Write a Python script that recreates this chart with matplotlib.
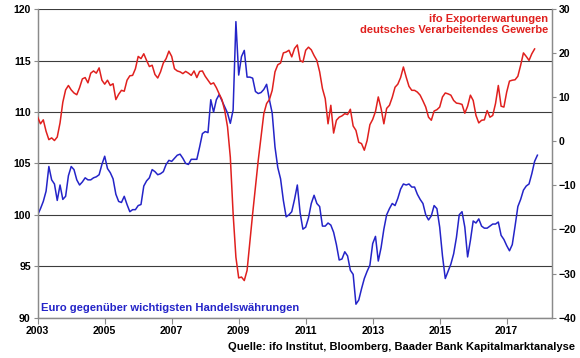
import numpy as np
import matplotlib
matplotlib.use("Agg")
import matplotlib.pyplot as plt

plt.rcParams['font.family'] = ['Liberation Sans', 'DejaVu Sans']
plt.rcParams['font.weight'] = 'bold'

start_year = 2003

# Euro gegenueber wichtigsten Handelswaehrungen (left axis), monthly from Jan 2003
euro_index = [
    100.0, 100.6, 101.3, 102.3, 104.7, 103.4, 103.0, 101.4, 102.9, 101.5, 101.8, 103.8,
    104.7, 104.4, 103.4, 102.9, 103.2, 103.6, 103.4, 103.4, 103.6, 103.7, 103.9, 104.9,
    105.7, 104.5, 104.1, 103.5, 102.0, 101.3, 101.2, 101.8, 101.0, 100.3, 100.5, 100.5,
    100.9, 101.0, 102.8, 103.3, 103.6, 104.4, 104.2, 103.9, 104.0, 104.2, 104.9, 105.3,
    105.2, 105.5, 105.8, 105.9, 105.5, 105.0, 104.9, 105.4, 105.4, 105.4, 106.6, 107.9,
    108.1, 108.0, 111.2, 110.0, 111.2, 111.7, 111.1, 110.5, 109.9, 108.9, 110.2, 118.8,
    113.6, 115.4, 116.0, 113.4, 113.4, 113.3, 112.0, 111.8, 111.9, 112.2, 112.7, 111.2,
    109.9, 106.6, 104.6, 103.5, 101.4, 99.8, 100.0, 100.3, 101.5, 102.9, 100.2, 98.6,
    98.8, 99.7, 101.1, 101.9, 101.1, 100.8, 98.9, 98.9, 99.2, 99.0, 98.3, 97.1,
    95.6, 95.7, 96.4, 96.0, 94.6, 94.2, 91.3, 91.7, 92.8, 93.8, 94.5, 95.1,
    97.2, 97.9, 95.5, 96.8, 98.6, 100.0, 100.6, 101.1, 100.9, 101.6, 102.5, 103.0,
    102.9, 103.0, 102.7, 102.7, 102.0, 101.5, 101.1, 100.0, 99.5, 99.9, 100.9, 100.6,
    98.8, 96.0, 93.8, 94.5, 95.2, 96.2, 97.8, 100.0, 100.3, 98.8, 95.9, 97.5,
    99.4, 99.2, 99.6, 98.9, 98.7, 98.7, 98.9, 99.1, 99.1, 99.3, 98.0, 97.6,
    97.0, 96.5, 97.1, 98.9, 100.8, 101.5, 102.4, 102.8, 103.0, 104.0, 105.2, 105.8,
]

# ifo Exporterwartungen deutsches Verarbeitendes Gewerbe (right axis), monthly from Jan 2003
ifo_export = [
    5.5, 4.0, 4.9, 2.3, 0.4, 0.8, 0.2, 1.0, 4.2, 8.9, 11.7, 12.7,
    11.7, 11.0, 10.6, 12.2, 14.2, 14.5, 13.3, 15.5, 16.0, 15.5, 16.7, 13.9,
    13.0, 13.9, 12.7, 13.1, 9.5, 10.7, 11.6, 11.4, 13.9, 14.9, 15.0, 16.5,
    19.3, 18.8, 19.9, 18.4, 17.0, 17.3, 15.2, 14.4, 15.8, 17.8, 18.8, 20.5,
    19.3, 16.5, 16.0, 15.8, 15.4, 15.9, 15.5, 15.0, 16.0, 14.5, 15.9, 16.0,
    14.8, 13.9, 13.0, 13.3, 12.2, 10.8, 9.5, 7.0, 3.3, -3.6, -16.4, -26.3,
    -31.0, -30.8, -31.6, -29.3, -22.9, -16.4, -10.4, -4.3, 1.0, 6.3, 8.6, 9.5,
    11.6, 15.8, 17.4, 17.8, 20.1, 20.3, 20.7, 19.2, 21.1, 21.9, 18.4, 18.0,
    20.7, 21.4, 20.8, 19.5, 18.4, 15.8, 12.0, 9.7, 4.0, 8.2, 1.9, 4.8,
    5.5, 5.8, 6.3, 6.1, 7.3, 3.5, 2.5, -0.2, -0.5, -2.0, 0.2, 3.8,
    5.0, 6.8, 10.1, 7.5, 4.0, 7.5, 8.2, 10.0, 12.3, 13.0, 14.5, 16.9,
    14.6, 12.5, 11.6, 11.6, 11.2, 10.5, 9.2, 7.8, 5.5, 4.8, 6.9, 7.2,
    7.8, 10.1, 11.0, 10.8, 10.5, 9.3, 8.7, 8.6, 8.4, 6.4, 8.0, 10.5,
    9.3, 5.9, 4.2, 4.8, 4.9, 7.0, 5.5, 5.9, 8.6, 12.7, 8.0, 7.8,
    11.2, 13.7, 13.9, 14.0, 14.8, 17.3, 20.1, 19.3, 18.4, 19.9, 21.0,
]

x_tick_years = [2003, 2005, 2007, 2009, 2011, 2013, 2015, 2017]
left_ticks = [90, 95, 100, 105, 110, 115, 120]
right_ticks = [-40, -30, -20, -10, 0, 10, 20, 30]

label_red = "ifo Exporterwartungen\ndeutsches Verarbeitendes Gewerbe"
label_blue = "Euro gegenüber wichtigsten Handelswährungen"
source = "Quelle: ifo Institut, Bloomberg, Baader Bank Kapitalmarktanalyse"

RED = '#E0201E'
BLUE = '#2424C8'
GRID = '#3C3C3C'
SPINE = '#8A8A8A'

x_blue = start_year + np.arange(len(euro_index)) / 12.0
x_red = start_year + np.arange(len(ifo_export)) / 12.0

fig = plt.figure(figsize=(5.8, 3.58), dpi=100)
ax = fig.add_axes([0.065, 0.113, 0.886, 0.861])
ax2 = ax.twinx()

ax.set_xlim(2003, 2018.34)
ax.set_ylim(90, 120)
ax2.set_ylim(-40, 30)

ax.set_yticks(left_ticks)
ax2.set_yticks(right_ticks)
ax.set_xticks(x_tick_years)
ax.set_xticklabels([str(y) for y in x_tick_years])

ax.yaxis.grid(True, color=GRID, lw=0.8)
ax.set_axisbelow(True)

ax.plot(x_blue, euro_index, color=BLUE, lw=1.1, zorder=3)
ax2.plot(x_red, ifo_export, color=RED, lw=1.1, zorder=3)

for a in (ax, ax2):
    a.spines['top'].set_visible(False)
    for s in ('left', 'right', 'bottom'):
        a.spines[s].set_color(SPINE)
        a.spines[s].set_linewidth(0.9)

ax.tick_params(axis='both', labelsize=7.6, colors='black', length=3, width=0.8,
               direction='out', pad=2)
ax.tick_params(axis='y', color=SPINE)
ax.tick_params(axis='x', color=SPINE, length=4)
ax2.tick_params(axis='y', labelsize=7.6, length=3, width=0.8, color=SPINE,
                direction='out', pad=2)
for lab in ax.get_xticklabels() + ax.get_yticklabels() + ax2.get_yticklabels():
    lab.set_fontweight('bold')

ax2.text(0.993, 0.985, label_red, transform=ax.transAxes, ha='right', va='top',
         color=RED, fontsize=8.0, fontweight='bold', linespacing=1.15)
ax.text(0.007, 0.03, label_blue, transform=ax.transAxes, ha='left', va='center',
        color=BLUE, fontsize=8.1, fontweight='bold')
fig.text(0.992, 0.032, source, ha='right', va='center', color='black',
         fontsize=8.0, fontweight='bold')

fig.savefig('out.png', dpi=100)
